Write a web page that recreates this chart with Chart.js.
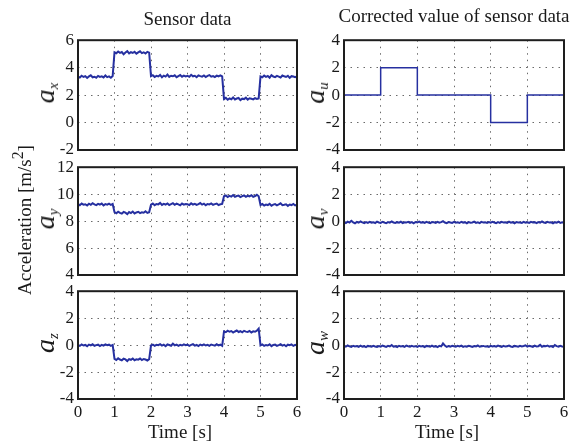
<!DOCTYPE html>
<html>
<head>
<meta charset="utf-8">
<script src="https://cdn.jsdelivr.net/npm/chart.js@4.4.1/dist/chart.umd.min.js"></script>
<style>
  body { margin: 0; background: #fff; }
  #figure { position: relative; width: 587px; height: 445px; background: #fff; overflow: hidden; font-family: "Liberation Serif", serif; color: #1a1a1a; }
  #figure canvas { position: absolute; }
  .txt { position: absolute; white-space: nowrap; line-height: 1; }
  .rot { position: absolute; white-space: nowrap; line-height: 1; transform: translate(-50%, -50%) rotate(-90deg); }
  .sym { font-style: italic; font-size: 28px; }
  .sym sub { font-size: 15px; vertical-align: -4px; }
</style>
</head>
<body>
<div id="figure"></div>
<script>
// sampled every 0.05 s, 0 .. 6 s
const sampleStep = 0.05;

// left column: raw sensor data
const ax = [3.35,3.28,3.41,3.32,3.38,3.25,3.36,3.44,3.30,3.34,3.27,3.40,3.33,3.37,3.29,3.43,3.31,3.36,3.26,3.39,
  5.12,5.05,5.18,5.08,5.14,4.98,5.10,5.20,5.04,5.13,5.07,5.16,5.02,5.11,5.19,5.06,5.12,5.03,5.15,5.09,
  3.38,3.45,3.32,3.40,3.36,3.47,3.30,3.42,3.35,3.50,3.33,3.41,3.37,3.44,3.31,3.39,3.46,3.34,3.42,3.36,
  3.40,3.33,3.48,3.37,3.41,3.30,3.44,3.38,3.35,3.43,3.32,3.40,3.46,3.34,3.39,3.31,3.42,3.37,3.44,3.36,
  1.72,1.80,1.66,1.76,1.70,1.83,1.68,1.75,1.79,1.64,1.74,1.71,1.81,1.67,1.77,1.73,1.69,1.78,1.72,1.76,
  3.36,3.30,3.42,3.33,3.39,3.27,3.45,3.35,3.31,3.40,3.34,3.28,3.43,3.37,3.32,3.41,3.26,3.38,3.35,3.30,3.36];
const ay = [9.27,9.18,9.30,9.22,9.25,9.16,9.29,9.21,9.33,9.24,9.19,9.28,9.23,9.31,9.17,9.26,9.22,9.30,9.20,9.27,
  8.66,8.58,8.70,8.61,8.55,8.68,8.63,8.52,8.67,8.60,8.71,8.57,8.64,8.69,8.59,8.65,8.62,8.73,8.61,8.66,
  9.22,9.30,9.18,9.27,9.24,9.35,9.20,9.28,9.23,9.31,9.19,9.26,9.33,9.21,9.29,9.24,9.17,9.30,9.22,9.27,
  9.25,9.19,9.32,9.23,9.28,9.20,9.26,9.34,9.22,9.29,9.18,9.27,9.24,9.31,9.21,9.26,9.30,9.19,9.25,9.28,
  9.84,9.90,9.79,9.87,9.82,9.93,9.80,9.86,9.89,9.78,9.85,9.91,9.81,9.88,9.83,9.92,9.80,9.86,9.95,9.84,
  9.20,9.27,9.15,9.23,9.19,9.28,9.14,9.22,9.26,9.17,9.24,9.32,9.18,9.21,9.25,9.13,9.23,9.19,9.27,9.16,9.21];
const az = [0.02,-0.06,0.05,-0.03,0.01,-0.08,0.04,-0.02,0.06,-0.05,0.00,0.03,-0.07,0.02,-0.04,0.05,-0.01,0.03,-0.06,0.01,
  -1.02,-1.10,-0.98,-1.07,-1.13,-1.01,-1.06,-1.18,-1.04,-1.09,-0.99,-1.12,-1.05,-1.08,-1.00,-1.11,-1.03,-1.07,-1.14,-1.04,
  -0.03,0.04,-0.06,0.02,-0.01,0.07,-0.04,0.03,-0.08,0.05,0.01,-0.05,0.10,-0.02,0.04,-0.06,0.02,-0.03,0.06,-0.01,
  0.03,-0.05,0.02,0.07,-0.04,0.01,-0.07,0.04,-0.02,0.05,-0.03,0.02,-0.06,0.04,0.00,-0.04,0.06,-0.02,0.03,-0.05,
  1.02,0.96,1.07,0.99,1.04,0.93,1.01,1.08,0.97,1.03,0.95,1.06,1.00,0.98,1.05,0.94,1.02,0.99,1.07,1.22,
  -0.02,0.05,-0.06,0.01,-0.03,0.06,-0.08,0.02,0.04,-0.05,0.00,0.07,-0.04,0.02,-0.09,0.03,-0.01,0.05,-0.06,0.02,-0.04];

// right column: corrected values
const auTime = [0, 1, 1, 2, 2, 4, 4, 5, 5, 6];
const au = [0, 0, 2, 2, 0, 0, -2, -2, 0, 0];
const av = [-0.08,-0.14,-0.04,-0.11,0.02,-0.09,-0.16,-0.06,-0.12,-0.03,-0.10,-0.15,-0.07,-0.13,-0.05,-0.11,-0.08,-0.14,-0.04,-0.10,
  -0.13,-0.06,-0.11,-0.16,-0.07,-0.12,-0.03,-0.10,-0.14,-0.08,-0.12,-0.05,-0.15,-0.09,-0.11,-0.06,-0.13,-0.08,-0.17,-0.07,
  -0.10,-0.04,-0.12,-0.08,-0.14,-0.06,-0.11,-0.15,-0.07,-0.09,-0.13,-0.05,-0.12,-0.08,-0.01,-0.11,-0.15,-0.07,-0.10,-0.13,
  -0.06,-0.12,-0.09,-0.14,-0.05,-0.11,-0.08,-0.16,-0.07,-0.12,-0.10,-0.04,-0.13,-0.09,-0.15,-0.06,-0.11,-0.08,-0.14,-0.07,
  -0.12,-0.05,-0.10,-0.15,-0.08,-0.13,-0.06,-0.11,-0.09,-0.14,-0.04,-0.12,-0.08,-0.16,-0.07,-0.11,-0.10,-0.13,-0.05,-0.12,
  -0.09,-0.14,-0.06,-0.11,-0.08,-0.15,-0.07,-0.12,-0.03,-0.10,-0.13,-0.06,-0.11,-0.09,-0.16,-0.08,-0.12,-0.05,-0.14,-0.09,-0.11];
const aw = [-0.06,-0.12,-0.03,-0.09,-0.14,-0.05,-0.10,-0.07,-0.13,-0.04,-0.11,-0.08,-0.15,-0.06,-0.09,-0.12,-0.05,-0.10,-0.14,-0.07,
  -0.11,-0.04,-0.09,-0.13,-0.06,-0.10,0.01,-0.12,-0.08,-0.15,-0.05,-0.10,-0.07,-0.13,-0.04,-0.09,-0.12,-0.06,-0.11,-0.08,
  -0.13,-0.05,-0.10,-0.07,-0.14,-0.06,-0.09,-0.12,-0.04,-0.11,-0.08,-0.15,-0.06,-0.10,0.12,-0.03,-0.13,-0.07,-0.11,-0.05,
  -0.09,-0.12,-0.06,-0.10,-0.04,-0.13,-0.08,-0.11,-0.05,-0.09,-0.14,-0.07,-0.10,-0.03,-0.12,-0.08,-0.06,-0.11,-0.09,-0.13,
  -0.05,-0.10,-0.07,-0.12,-0.04,-0.09,-0.13,-0.06,-0.11,-0.08,-0.03,-0.10,-0.14,-0.06,-0.09,-0.12,-0.05,-0.10,-0.07,-0.02,
  -0.11,-0.06,-0.09,-0.13,-0.04,-0.10,-0.08,0.02,-0.12,-0.06,-0.09,-0.03,-0.11,-0.07,-0.14,0.00,-0.08,-0.12,-0.05,-0.10,-0.13];

// axis ranges and tick labels
const timeTicks = [0, 1, 2, 3, 4, 5, 6];
const axRange = [-2, 6];
const ayRange = [4, 12];
const azRange = [-4, 4];
const corrRange = [-4, 4];

const colTitles = ['Sensor data', 'Corrected value of sensor data'];
const xTitle = 'Time [s]';
const yTitle = 'Acceleration [m/s<sup>2</sup>]';

const lineBlue = 'rgb(38,48,160)';
const AXIS_W = 40, AXIS_H = 26, PAD_T = 10, PAD_R = 12;
const fig = document.getElementById('figure');

function pts(times, vals) {
    return vals.map((v, i) => ({ x: times[i], y: v }));
}
const sampleTime = ax.map((_, i) => +(i * sampleStep).toFixed(2));

// MATLAB style black box round the plot
const framePlugin = {
    id: 'frame',
    afterDraw(chart) {
        const { ctx, chartArea: a } = chart;
        ctx.save();
        ctx.strokeStyle = '#1e1e1e';
        ctx.lineWidth = 2;
        ctx.strokeRect(a.left, a.top, a.right - a.left, a.bottom - a.top);
        ctx.restore();
    }
};

function makePanel(p) {
    const canvas = document.createElement('canvas');
    canvas.width = AXIS_W + p.w + PAD_R;
    canvas.height = PAD_T + p.h + AXIS_H;
    canvas.style.left = (p.x - AXIS_W) + 'px';
    canvas.style.top = (p.y - PAD_T) + 'px';
    fig.appendChild(canvas);

    const tickFont = { family: 'Liberation Serif', size: 17 };
    new Chart(canvas, {
        type: 'line',
        data: {
            datasets: [{
                data: p.data,
                borderColor: lineBlue,
                borderWidth: p.width || 2,
                pointRadius: 0,
                tension: 0
            }]
        },
        options: {
            responsive: false,
            animation: false,
            layout: { padding: { top: PAD_T, right: PAD_R, left: 0, bottom: 0 } },
            plugins: { legend: { display: false }, tooltip: { enabled: false } },
            scales: {
                x: {
                    type: 'linear',
                    min: timeTicks[0],
                    max: timeTicks[timeTicks.length - 1],
                    afterFit: (s) => { s.height = AXIS_H; },
                    ticks: { stepSize: 1, display: p.showX, font: tickFont, color: '#1a1a1a', padding: 3, maxRotation: 0 },
                    grid: { color: '#6a6a6a', lineWidth: 1, drawTicks: false },
                    border: { display: false, dash: [1.5, 5] }
                },
                y: {
                    min: p.range[0],
                    max: p.range[1],
                    afterFit: (s) => { s.width = AXIS_W; },
                    ticks: { stepSize: 2, font: tickFont, color: '#1a1a1a', padding: 4 },
                    grid: { color: '#6a6a6a', lineWidth: 1, drawTicks: false },
                    border: { display: false, dash: [1.5, 5] }
                }
            }
        },
        plugins: [framePlugin]
    });

    // rotated symbol label, e.g. a_x
    const lab = document.createElement('div');
    lab.className = 'rot sym';
    lab.innerHTML = 'a<sub>' + p.sub + '</sub>';
    lab.style.left = p.labX + 'px';
    lab.style.top = (p.y + p.h / 2) + 'px';
    fig.appendChild(lab);
}

const leftX = 78, leftW = 219, rightX = 344, rightW = 220;
const rows = [{ y: 36, h: 114 }, { y: 163, h: 112 }, { y: 287, h: 112 }];

makePanel({ x: leftX, w: leftW, ...rows[0], range: axRange, data: pts(sampleTime, ax), sub: 'x', labX: 46, showX: false });
makePanel({ x: leftX, w: leftW, ...rows[1], range: ayRange, data: pts(sampleTime, ay), sub: 'y', labX: 46, showX: false });
makePanel({ x: leftX, w: leftW, ...rows[2], range: azRange, data: pts(sampleTime, az), sub: 'z', labX: 46, showX: true });
makePanel({ x: rightX, w: rightW, ...rows[0], range: corrRange, data: pts(auTime, au), sub: 'u', labX: 316, showX: false, width: 1.5 });
makePanel({ x: rightX, w: rightW, ...rows[1], range: corrRange, data: pts(sampleTime, av), sub: 'v', labX: 316, showX: false });
makePanel({ x: rightX, w: rightW, ...rows[2], range: corrRange, data: pts(sampleTime, aw), sub: 'w', labX: 316, showX: true });

// titles and axis names as plain text
function addText(html, cls, css) {
    const d = document.createElement('div');
    d.className = cls;
    d.innerHTML = html;
    Object.assign(d.style, css);
    fig.appendChild(d);
    return d;
}
addText(colTitles[0], 'txt', { left: (leftX + leftW / 2) + 'px', top: '9px', fontSize: '19px', transform: 'translateX(-50%)' });
addText(colTitles[1], 'txt', { left: (rightX + rightW / 2) + 'px', top: '6px', fontSize: '19px', transform: 'translateX(-50%)' });
addText(xTitle, 'txt', { left: '180px', top: '422px', fontSize: '19px', transform: 'translateX(-50%)' });
addText(xTitle, 'txt', { left: '447px', top: '422px', fontSize: '19px', transform: 'translateX(-50%)' });
addText(yTitle, 'rot', { left: '22px', top: '220px', fontSize: '19px' });
</script>
</body>
</html>
